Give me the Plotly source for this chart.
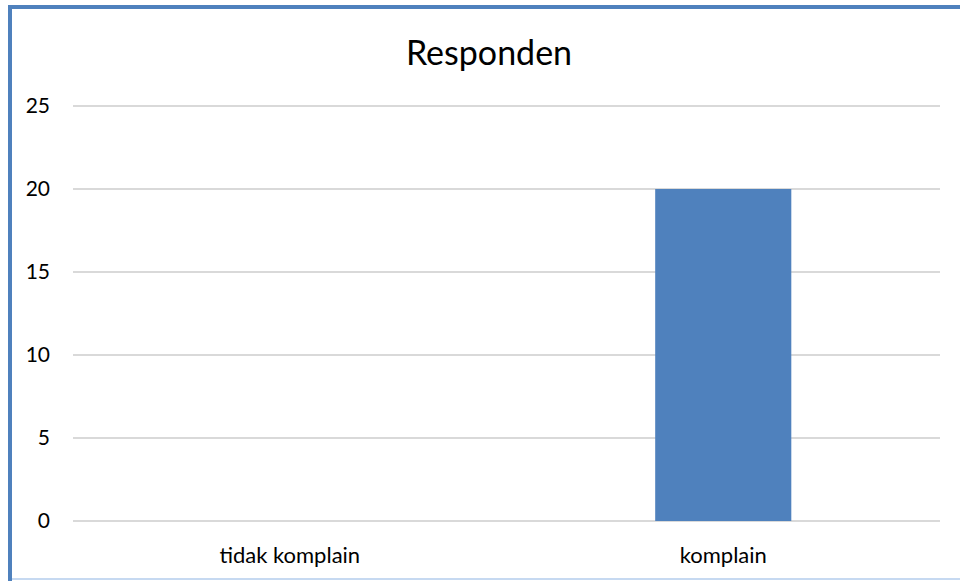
import plotly.graph_objects as go

categories = ["tidak komplain", "komplain"]
values = [0, 20]
tick_values = [0, 5, 10, 15, 20, 25]
title_text = "Responden"

fig = go.Figure(go.Bar(x=categories, y=values, marker=dict(color="#4f81bd", line=dict(width=0)), width=0.314))

W, H = 960, 581
L, R, B = 73, 20, 60
ymax = 25.3
unit = 16.6
T = int(round(H - B - ymax * unit))
pw, ph = W - L - R, H - T - B

def px(p):
    return (p - L) / pw

def py(q):
    return (H - B - q) / ph

fig.update_layout(
    width=W, height=H,
    margin=dict(l=L, r=R, t=T, b=B),
    paper_bgcolor="white", plot_bgcolor="white",
    showlegend=False,
    font=dict(family="Lato, Carlito, sans-serif", color="#000000"),
    title=dict(text=title_text, x=(489) / W, xanchor="center", y=1 - 53 / H, yanchor="middle",
               font=dict(size=34, family="Lato, sans-serif", color="#000000")),
    xaxis=dict(showgrid=False, showline=False, ticks="", tickfont=dict(size=22),
               ticklabelstandoff=19, zeroline=False),
    yaxis=dict(range=[0, ymax], tickvals=tick_values, showgrid=True, gridcolor="#d9d9d9", gridwidth=1.5,
               zeroline=True, zerolinecolor="#d9d9d9", zerolinewidth=1.5, showline=False, ticks="",
               tickfont=dict(size=21), ticklabelstandoff=22),
    shapes=[
        dict(type="line", xref="paper", yref="paper", x0=px(10), x1=px(10), y0=py(5), y1=py(581),
             line=dict(color="#4f81bd", width=4)),
        dict(type="line", xref="paper", yref="paper", x0=px(8), x1=px(960), y0=py(7), y1=py(7),
             line=dict(color="#4f81bd", width=4)),
        dict(type="line", xref="paper", yref="paper", x0=px(12), x1=px(960), y0=py(579), y1=py(579),
             line=dict(color="#c6d9f1", width=2)),
    ],
)

fig.write_html("out.html")
